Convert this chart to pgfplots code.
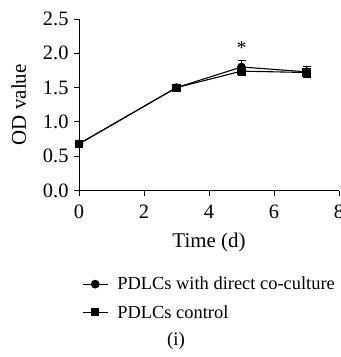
\documentclass[border=0pt]{standalone}
\usepackage{pgfplots}
\pgfplotsset{compat=1.18}
\usepackage{fontspec}
\setmainfont{Liberation Serif}
\begin{document}
\begin{tikzpicture}
\useasboundingbox (0bp,0bp) rectangle (341bp,357bp);
\begin{axis}[
  at={(79bp,166.5bp)}, anchor=south west,
  scale only axis, width=260bp, height=171.5bp,
  xmin=0, xmax=8, ymin=0, ymax=2.5,
  xtick={0,2,4,6,8}, ytick={0,0.5,1,1.5,2,2.5},
  axis lines*=left,
  axis line style={line width=0.9pt},
  tick style={line width=0.9pt, black},
  tick align=outside, major tick length=5bp,
  yticklabel style={/pgf/number format/fixed, /pgf/number format/fixed zerofill, /pgf/number format/precision=1},
  /pgf/number format/assume math mode=true,
  ticklabel style={font=\fontsize{20.5}{22}\selectfont},
  xticklabel style={yshift=-6bp},
  yticklabel style={xshift=-2bp},
  label style={font=\fontsize{21}{23}\selectfont},
  xlabel={Time (d)}, ylabel={OD value},
  xlabel style={yshift=-7bp},
  ylabel style={yshift=10bp},
  clip=false,
  legend style={at={(axis cs:0.0,-1.2)}, anchor=north west, draw=none, fill=none,
    font=\fontsize{18.5}{20}\selectfont, row sep=10bp, cells={anchor=west}},
  legend image code/.code={\draw[mark repeat=2,mark phase=2,#1] plot coordinates {(0bp,0bp)(12.5bp,0bp)(25bp,0bp)};},
]
\addplot[black, line width=1.1pt, mark=*, mark size=3.8bp,
  error bars/.cd, y dir=both, y explicit,
  error bar style={line width=1pt, black},
  error mark options={rotate=90, mark size=4bp, line width=1pt}]
  coordinates {(0,0.68) +- (0,0.02) (3,1.50) +- (0,0.04) (5,1.80) +- (0,0.10) (7,1.73) +- (0,0.08)};
\addlegendentry{\hspace{7bp}PDLCs with direct co-culture}
\addplot[black, line width=1.1pt, mark=square*, mark size=3.5bp,
  error bars/.cd, y dir=both, y explicit,
  error bar style={line width=1pt, black},
  error mark options={rotate=90, mark size=4bp, line width=1pt}]
  coordinates {(0,0.68) +- (0,0.02) (3,1.50) +- (0,0.04) (5,1.74) +- (0,0.06) (7,1.72) +- (0,0.06)};
\addlegendentry{\hspace{7bp}PDLCs control}
\node[font=\fontsize{20}{22}\selectfont] at (axis cs:5,2.08) {*};
\end{axis}
\node[font=\fontsize{19}{21}\selectfont] at (176bp,16bp) {(i)};
\end{tikzpicture}
\end{document}
